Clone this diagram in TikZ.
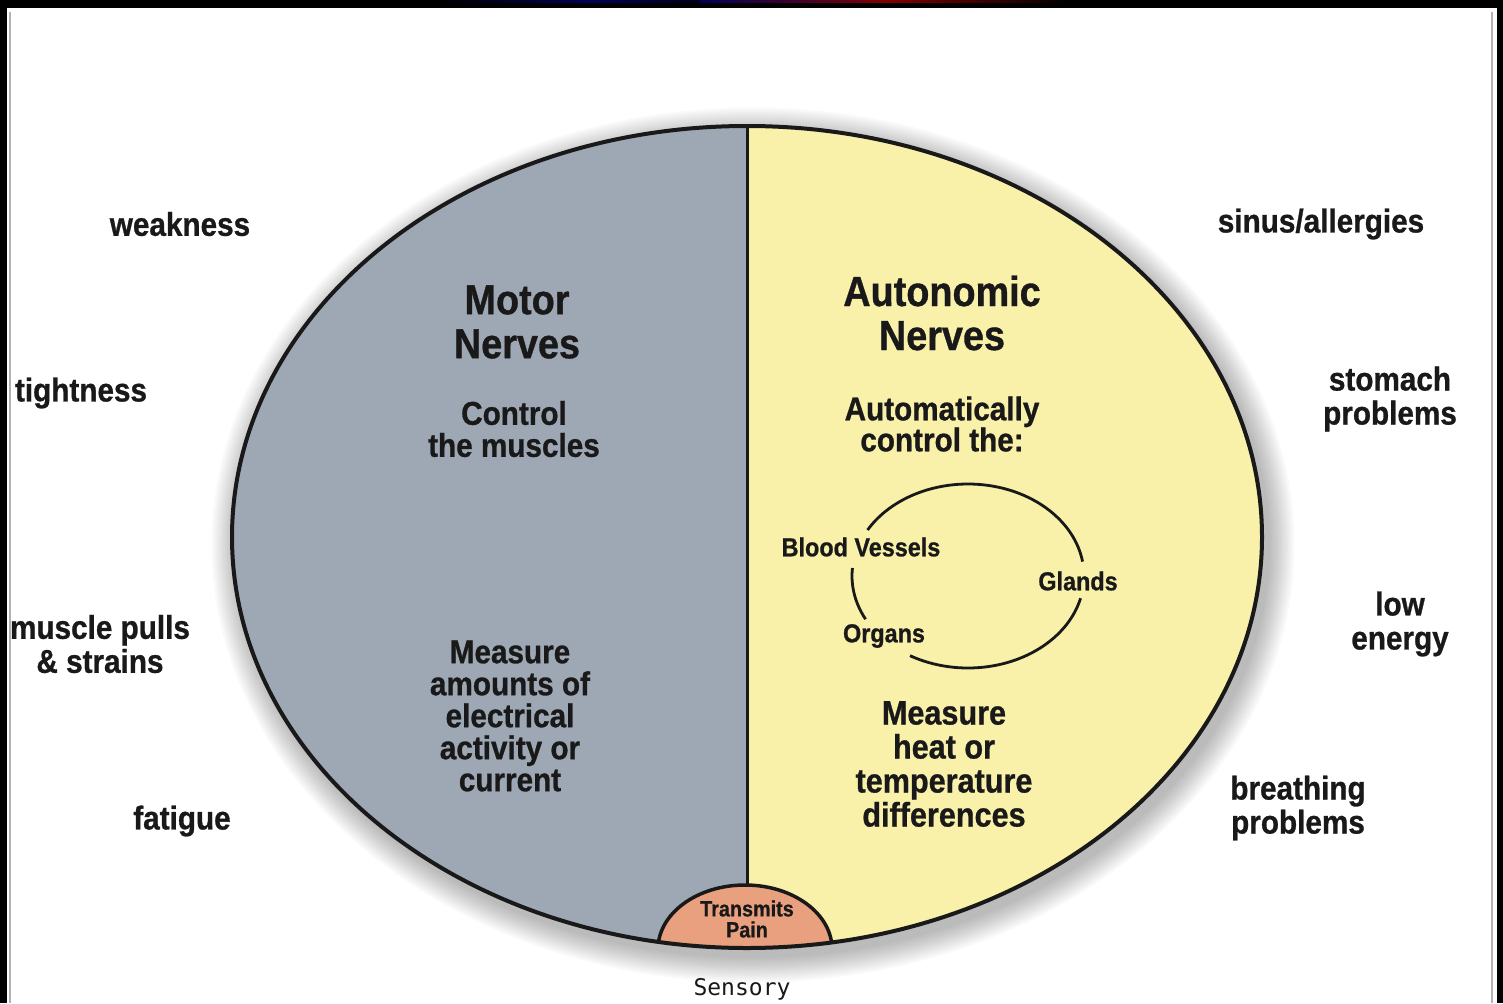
\documentclass[tikz,border=0pt]{standalone}
\usepackage{fontspec}
\setmainfont{Liberation Sans}
\newfontfamily\cnd[FakeStretch=0.9,FakeBold=0.8]{Liberation Sans}
\newfontfamily\monof{DejaVu Sans Mono}
\definecolor{motorgray}{RGB}{158,167,180}
\definecolor{autoyellow}{RGB}{249,240,170}
\definecolor{painfill}{RGB}{232,160,126}
\definecolor{inkc}{RGB}{25,25,25}
\begin{document}
\begin{tikzpicture}[x=1pt,y=-1pt,
  lab/.style={font=\cnd\bfseries\fontsize{33}{34}\selectfont, align=center, inner sep=0pt, text=inkc},
  ttl/.style={font=\cnd\bfseries\fontsize{42}{44}\selectfont, align=center, inner sep=0pt, text=inkc},
  txt/.style={font=\cnd\bfseries\fontsize{33}{32}\selectfont, align=center, inner sep=0pt, text=inkc},
  sml/.style={font=\cnd\bfseries\fontsize{26}{28}\selectfont, align=center, inner sep=0pt, text=inkc},
  arcline/.style={line width=2.8pt, draw=inkc}]
\useasboundingbox (0,0) rectangle (1503,1003);
% frame
\fill[black] (0,0) rectangle (1503,1003);
\fill[white] (7,8) rectangle (1497,1003);
\draw[gray!60, line width=2pt] (10,12) -- (10,1003);
\draw[gray!60, line width=2pt] (1492,12) -- (1492,1003);
\shade[left color=black, right color=black, middle color=blue!35!black] (440,0) rectangle (740,3);
\shade[left color=blue!35!black, right color=black, middle color=red!50!black] (700,0) rectangle (1070,3);
% shadow
\foreach \i in {1,...,12}
  \fill[black, opacity=0.022] (753,545) ellipse [x radius={515pt+\i*2.2pt}, y radius={411pt+\i*2.2pt}];
% halves
\begin{scope}
  \clip (747,537) ellipse [x radius=515pt, y radius=411pt];
  \fill[motorgray] (0,0) rectangle (747,1003);
  \fill[autoyellow] (747,0) rectangle (1503,1003);
  \fill[painfill] (745,949) ellipse [x radius=87pt, y radius=64pt];
  \draw[line width=3.5pt, inkc] (745,949) ellipse [x radius=87pt, y radius=64pt];
\end{scope}
\coordinate (divtop) at (747,127);
\coordinate (divbot) at (747,885);
\draw[line width=3pt, inkc] (divtop) -- (divbot);
\draw[line width=4pt, inkc] (747,537) ellipse [x radius=515pt, y radius=411pt];
% inner cycle
\draw[arcline] plot[domain=210:351, samples=80] ({968+116*cos(\x)}, {576+92*sin(\x)});
\draw[arcline] plot[domain=14:120, samples=60] ({968+116*cos(\x)}, {576+92*sin(\x)});
\draw[arcline] plot[domain=152:185, samples=20] ({968+116*cos(\x)}, {576+92*sin(\x)});
% outside labels
\node[lab] (weak) at (180,224) {weakness};
\node[lab] (tight) at (81,393) {tightness};
\node[lab] (pulls) at (100,644) {muscle pulls\\\& strains};
\node[lab] (fat) at (182,821) {fatigue};
\node[lab] (sinus) at (1321,224) {sinus/allergies};
\node[lab] (stom) at (1390,399) {stomach\\problems};
\node[lab] (low) at (1400,624) {low\\energy};
\node[lab] (breath) at (1298,808) {breathing\\problems};
% left half
\node[ttl] (motor) at (517,322) {Motor\\Nerves};
\node[txt] (ctrl) at (514,429) {Control\\the muscles};
\node[txt] (meas1) at (510,716) {Measure\\amounts of\\electrical\\activity or\\current};
% right half
\node[ttl] (auto) at (942,313) {Autonomic\\Nerves};
\node[txt, font=\cnd\bfseries\fontsize{33}{31}\selectfont] (actrl) at (942,424) {Automatically\\control the:};
\node[sml] (bv) at (861,547) {Blood Vessels};
\node[sml] (gl) at (1078,581) {Glands};
\node[sml] (org) at (884,636) {Organs};
\node[txt, font=\cnd\bfseries\fontsize{34}{34}\selectfont] (meas2) at (944,764) {Measure\\heat or\\temperature\\differences};
% pain
\node[font=\cnd\bfseries\fontsize{22}{21}\selectfont, align=center, inner sep=0pt, text=inkc] (pain) at (747,919) {Transmits\\Pain};
\node[font=\monof\fontsize{23}{24}\selectfont, inner sep=0pt, text=inkc] (sens) at (742,989) {Sensory};
\end{tikzpicture}
\end{document}
